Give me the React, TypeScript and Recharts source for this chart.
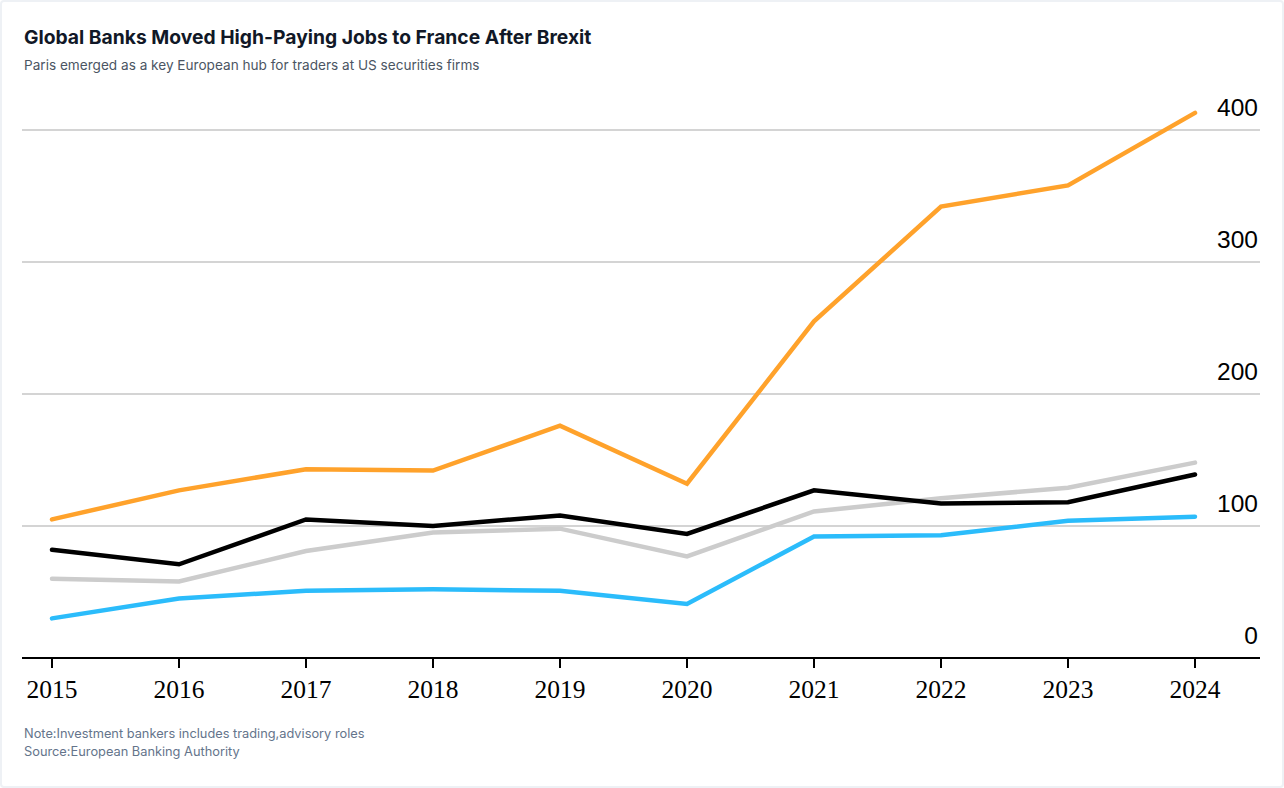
import React from "react";
import { CartesianGrid, Line, LineChart, XAxis, YAxis } from "recharts";

const years = ["2015", "2016", "2017", "2018", "2019", "2020", "2021", "2022", "2023", "2024"];
const orangeValues = [105, 127, 143, 142, 176, 132, 255, 342, 358, 413];
const blackValues = [82, 71, 105, 100, 108, 94, 127, 117, 118, 139];
const grayValues = [60, 58, 81, 95, 98, 77, 111, 121, 129, 148];
const blueValues = [30, 45, 51, 52, 51, 41, 92, 93, 104, 107];
const yTicks = [0, 100, 200, 300, 400];

const data = years.map((year, i) => ({
  year,
  orange: orangeValues[i],
  black: blackValues[i],
  gray: grayValues[i],
  blue: blueValues[i],
}));

const sans = "Inter, 'Noto Sans', Arial, sans-serif";

const YTick = (props: any) => {
  const { x, y, payload } = props;
  return (
    <text
      x={x}
      y={y - 14}
      textAnchor="end"
      fill="#000"
      fontSize={24.5}
      fontFamily="'Liberation Sans', Arial, sans-serif"
    >
      {payload.value}
    </text>
  );
};

export default function App() {
  return (
    <div
      style={{
        position: "fixed",
        left: 0,
        top: 0,
        width: 1284,
        height: 788,
        background: "#fff",
        boxSizing: "border-box",
        border: "2px solid #eef1f5",
        borderRadius: 4,
      }}
    >
      <div
        style={{
          position: "absolute",
          left: 22,
          top: 23,
          fontFamily: sans,
          fontSize: 19.3,
          fontWeight: 700,
          color: "#111827",
        }}
      >
        Global Banks Moved High-Paying Jobs to France After Brexit
      </div>
      <div
        style={{
          position: "absolute",
          left: 22,
          top: 55,
          fontFamily: sans,
          fontSize: 13.6,
          color: "#4b5563",
        }}
      >
        Paris emerged as a key European hub for traders at US securities firms
      </div>
      <div style={{ position: "absolute", left: -2, top: -2 }}>
        <LineChart
          width={1284}
          height={788}
          data={data}
          margin={{ top: 103.6, right: 24, bottom: 90, left: 22 }}
        >
          <CartesianGrid vertical={false} horizontalValues={yTicks} stroke="#d4d4d4" strokeWidth={2} />
          <XAxis
            dataKey="year"
            height={40}
            padding={{ left: 30, right: 65 }}
            axisLine={{ stroke: "#000", strokeWidth: 2 }}
            tickLine={{ stroke: "#000", strokeWidth: 2 }}
            tickSize={10}
            tickMargin={12}
            tick={{ fill: "#000", fontSize: 25.5, fontFamily: "'Liberation Serif', 'Times New Roman', serif" }}
          />
          <YAxis
            orientation="right"
            mirror
            domain={[0, 420]}
            ticks={yTicks}
            axisLine={false}
            tickLine={false}
            tickSize={0}
            tickMargin={2}
            tick={<YTick />}
          />
          <Line dataKey="gray" stroke="#cccccc" strokeWidth={4.5} dot={false} strokeLinecap="round" isAnimationActive={false} />
          <Line dataKey="blue" stroke="#2bbcfb" strokeWidth={4.5} dot={false} strokeLinecap="round" isAnimationActive={false} />
          <Line dataKey="orange" stroke="#ffa22b" strokeWidth={4.5} dot={false} strokeLinecap="round" isAnimationActive={false} />
          <Line dataKey="black" stroke="#000000" strokeWidth={4.5} dot={false} strokeLinecap="round" isAnimationActive={false} />
        </LineChart>
      </div>
      <div
        style={{
          position: "absolute",
          left: 22,
          top: 723,
          fontFamily: sans,
          fontSize: 12.8,
          lineHeight: "18px",
          color: "#64748b",
        }}
      >
        <div>Note:Investment bankers includes trading,advisory roles</div>
        <div>Source:European Banking Authority</div>
      </div>
    </div>
  );
}
